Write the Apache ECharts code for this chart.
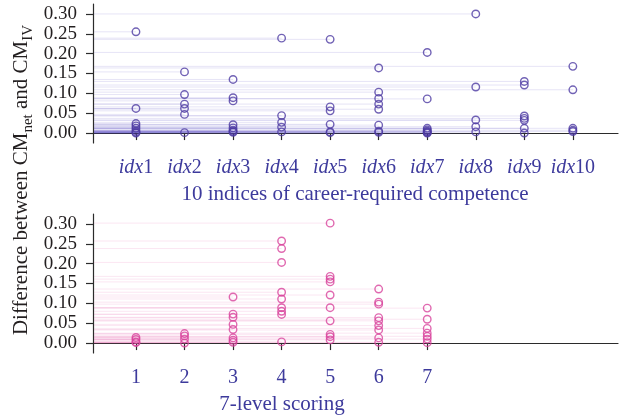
<!DOCTYPE html>
<html>
<head>
<meta charset="utf-8">
<script src="https://cdn.jsdelivr.net/npm/echarts@6/dist/echarts.min.js"></script>
<style>
  html, body { margin: 0; padding: 0; background: #ffffff; }
  #chart { width: 625px; height: 419px; }
</style>
</head>
<body>
<div id="chart"></div>
<script>
// Competence indices (upper panel)
const indexNames = ['idx1', 'idx2', 'idx3', 'idx4', 'idx5', 'idx6', 'idx7', 'idx8', 'idx9', 'idx10'];
const idx1 = [0.255, 0.062, 0.024, 0.018, 0.012, 0.006, 0.002, 0.000];
const idx2 = [0.154, 0.097, 0.073, 0.062, 0.047, 0.001];
const idx3 = [0.135, 0.089, 0.081, 0.021, 0.013, 0.007, 0.004, 0.002];
const idx4 = [0.239, 0.044, 0.027, 0.015, 0.003];
const idx5 = [0.236, 0.066, 0.056, 0.022, 0.003, 0.001];
const idx6 = [0.164, 0.103, 0.087, 0.073, 0.060, 0.020, 0.005, 0.002];
const idx7 = [0.203, 0.086, 0.012, 0.008, 0.005, 0.003, 0.001, 0.000];
const idx8 = [0.300, 0.116, 0.033, 0.016, 0.003];
const idx9 = [0.130, 0.121, 0.043, 0.037, 0.032, 0.012, 0.000];
const idx10 = [0.168, 0.109, 0.012, 0.007, 0.004];
const indexValues = [idx1, idx2, idx3, idx4, idx5, idx6, idx7, idx8, idx9, idx10];

// Scoring levels (lower panel)
const levelNames = ['1', '2', '3', '4', '5', '6', '7'];
const level1 = [0.014, 0.009, 0.003, 0.001];
const level2 = [0.024, 0.018, 0.010, 0.000];
const level3 = [0.116, 0.073, 0.065, 0.047, 0.034, 0.013, 0.007, 0.002];
const level4 = [0.257, 0.238, 0.203, 0.128, 0.111, 0.089, 0.080, 0.072, 0.003];
const level5 = [0.302, 0.168, 0.161, 0.154, 0.121, 0.089, 0.056, 0.022, 0.016, 0.008];
const level6 = [0.136, 0.103, 0.098, 0.064, 0.056, 0.044, 0.033, 0.013, 0.002];
const level7 = [0.088, 0.060, 0.037, 0.025, 0.017, 0.010, 0.001];
const levelValues = [level1, level2, level3, level4, level5, level6, level7];

const yTicks = [0, 0.05, 0.10, 0.15, 0.20, 0.25, 0.30];

const FONT = '"Liberation Serif", "DejaVu Serif", serif';
const TEXT_BLUE = '#3d3a9c';
const TICK_DARK = '#231f20';
const PURPLE = '#4e3ba3';
const PINK = '#d8449c';

function toPoints(groups) {
  const pts = [];
  groups.forEach((vals, i) => vals.forEach(v => pts.push([i + 1, v])));
  return pts;
}
const indexPoints = toPoints(indexValues);
const levelPoints = toPoints(levelValues);
const indexPositions = indexNames.map((_, i) => i + 1);
const levelPositions = levelNames.map((_, i) => i + 1);

// faint guide from the y axis to each marker
function guideRenderer(color) {
  return function (params, api) {
    const p = api.coord([api.value(0), api.value(1)]);
    const x0 = params.coordSys.x;
    return {
      type: 'line',
      shape: { x1: x0 + 1, y1: p[1], x2: p[0], y2: p[1] },
      style: { stroke: color, lineWidth: 1, opacity: 0.15 },
      silent: true
    };
  };
}

function makeXAxis(gridIndex, positions, formatter) {
  return {
    type: 'value', gridIndex: gridIndex,
    min: 0.115, max: 10.93,
    axisLine: { show: true, lineStyle: { color: '#2b2b2b', width: 1.2 } },
    axisTick: { show: true, customValues: positions, length: 7, lineStyle: { color: '#2b2b2b', width: 1.2 } },
    axisLabel: {
      customValues: positions, formatter: formatter, margin: 15,
      fontFamily: FONT, fontSize: 20, color: TEXT_BLUE,
      rich: { i: { fontFamily: FONT, fontSize: 20, fontStyle: 'italic', color: TEXT_BLUE } }
    },
    splitLine: { show: false }
  };
}
function makeYAxis(gridIndex) {
  return {
    type: 'value', gridIndex: gridIndex,
    min: -0.025, max: 0.325,
    axisLine: { show: true, lineStyle: { color: '#2b2b2b', width: 1.2 } },
    axisTick: { show: true, customValues: yTicks, length: 7, lineStyle: { color: '#2b2b2b', width: 1.2 } },
    axisLabel: {
      customValues: yTicks, margin: 16,
      formatter: v => v.toFixed(2),
      fontFamily: FONT, fontSize: 19, color: TICK_DARK
    },
    splitLine: { show: false }
  };
}

const chart = echarts.init(document.getElementById('chart'), null, { renderer: 'canvas' });
chart.setOption({
  backgroundColor: '#ffffff',
  animation: false,
  grid: [
    { left: 93, width: 525, top: 4, height: 139 },
    { left: 93, width: 525, top: 214, height: 139 }
  ],
  xAxis: [
    makeXAxis(0, indexPositions, v => '{i|idx}' + indexNames[v - 1].slice(3)),
    makeXAxis(1, levelPositions, v => levelNames[v - 1])
  ],
  yAxis: [makeYAxis(0), makeYAxis(1)],
  series: [
    { type: 'custom', xAxisIndex: 0, yAxisIndex: 0, data: indexPoints, renderItem: guideRenderer('#5a4cc0'), z: 1 },
    { type: 'custom', xAxisIndex: 1, yAxisIndex: 1, data: levelPoints, renderItem: guideRenderer('#e45aaa'), z: 1 },
    {
      type: 'scatter', xAxisIndex: 0, yAxisIndex: 0, data: indexPoints, symbol: 'circle', symbolSize: 7.5,
      itemStyle: { color: 'rgba(255,255,255,0)', borderColor: PURPLE, borderWidth: 1.4 }, z: 3
    },
    {
      type: 'scatter', xAxisIndex: 1, yAxisIndex: 1, data: levelPoints, symbol: 'circle', symbolSize: 7.5,
      itemStyle: { color: 'rgba(255,255,255,0)', borderColor: PINK, borderWidth: 1.4 }, z: 3
    }
  ],
  graphic: [
    {
      type: 'text', x: 21, y: 180, rotation: Math.PI / 2,
      style: {
        text: 'Difference between CM{s|net} and CM{s|IV}',
        font: '21px ' + FONT, fill: TICK_DARK,
        align: 'center', verticalAlign: 'middle',
        rich: {
          s: { fontFamily: FONT, fontSize: 15, fill: TICK_DARK, lineHeight: 13, verticalAlign: 'bottom' }
        },
        lineHeight: 30
      }
    },
    {
      type: 'text', x: 355, y: 194,
      style: { text: '10 indices of career-required competence', font: '21px ' + FONT, fill: TEXT_BLUE, align: 'center', verticalAlign: 'middle' }
    },
    {
      type: 'text', x: 282, y: 404,
      style: { text: '7-level scoring', font: '21px ' + FONT, fill: TEXT_BLUE, align: 'center', verticalAlign: 'middle' }
    }
  ]
});
</script>
</body>
</html>
